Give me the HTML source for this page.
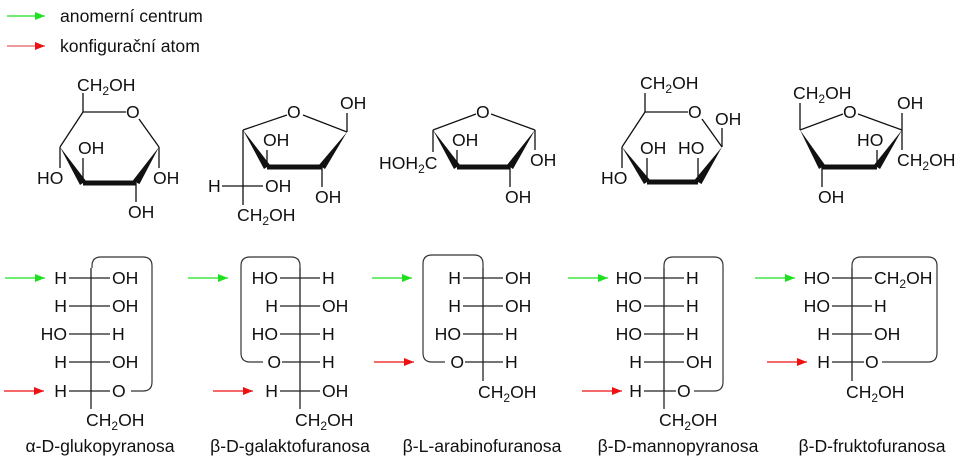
<!DOCTYPE html>
<html><head><meta charset="utf-8"><style>
html,body{margin:0;padding:0;background:#fff;}
svg{display:block;}
text{font-family:"Liberation Sans",Arial,sans-serif;font-size:17.6px;fill:#111;}
.s{font-size:12px;}
</style></head><body>
<svg width="960" height="462" viewBox="0 0 960 462" xmlns="http://www.w3.org/2000/svg">
<defs>
<marker id="g" markerWidth="10" markerHeight="8" refX="10" refY="4" orient="auto" markerUnits="userSpaceOnUse"><path d="M0,0 L10,4 L0,8 Z" fill="#1fe01f"/></marker>
<marker id="r" markerWidth="10" markerHeight="8" refX="10" refY="4" orient="auto" markerUnits="userSpaceOnUse"><path d="M0,0 L10,4 L0,8 Z" fill="#ee1111"/></marker>
</defs>
<g stroke-width="1.2">
<line x1="7" y1="16" x2="45" y2="16" stroke="#1fe01f" marker-end="url(#g)"/>
<line x1="7" y1="46" x2="45" y2="46" stroke="#e06060" marker-end="url(#r)"/>
</g>
<text x="60" y="22">anomerní centrum</text>
<text x="60" y="52">konfigurační atom</text>

<g stroke="#111" stroke-width="1.3" fill="none">
<line x1="83" y1="112" x2="126" y2="112"/>
<line x1="83" y1="93" x2="83" y2="112"/>
<line x1="139" y1="119" x2="159" y2="147"/>
<line x1="83" y1="112" x2="60" y2="147"/>
<line x1="60" y1="147" x2="60" y2="168"/>
<line x1="83" y1="183" x2="83" y2="158"/>
<line x1="159" y1="147" x2="159" y2="168"/>
<line x1="136" y1="183" x2="136" y2="202"/>
<line x1="83" y1="183" x2="136" y2="183" stroke-width="5"/>
<line x1="243" y1="130" x2="287" y2="115"/>
<line x1="303" y1="115" x2="347" y2="132"/>
<line x1="347" y1="132" x2="347" y2="113"/>
<line x1="322" y1="167" x2="322" y2="187"/>
<line x1="267" y1="167" x2="267" y2="150"/>
<line x1="243" y1="130" x2="243" y2="205"/>
<line x1="222" y1="186" x2="263" y2="186"/>
<line x1="267" y1="167" x2="322" y2="167" stroke-width="5"/>
<line x1="433" y1="130" x2="476" y2="114"/>
<line x1="491" y1="114" x2="535" y2="130"/>
<line x1="535" y1="130" x2="535" y2="150"/>
<line x1="510" y1="167" x2="510" y2="187"/>
<line x1="457" y1="167" x2="457" y2="150"/>
<line x1="433" y1="130" x2="433" y2="152"/>
<line x1="457" y1="167" x2="510" y2="167" stroke-width="5"/>
<line x1="645" y1="112" x2="688" y2="112"/>
<line x1="645" y1="93" x2="645" y2="112"/>
<line x1="702" y1="119" x2="722" y2="147"/>
<line x1="722" y1="147" x2="722" y2="128"/>
<line x1="645" y1="112" x2="622" y2="147"/>
<line x1="622" y1="147" x2="622" y2="168"/>
<line x1="698" y1="182" x2="698" y2="158"/>
<line x1="647" y1="182" x2="647" y2="158"/>
<line x1="647" y1="182" x2="698" y2="182" stroke-width="5"/>
<line x1="800" y1="130" x2="843" y2="114"/>
<line x1="858" y1="114" x2="902" y2="130"/>
<line x1="800" y1="130" x2="800" y2="103"/>
<line x1="902" y1="113" x2="902" y2="150"/>
<line x1="877" y1="167" x2="877" y2="150"/>
<line x1="822" y1="167" x2="822" y2="187"/>
<line x1="822" y1="167" x2="877" y2="167" stroke-width="5"/>
</g>
<g fill="#111">
<polygon points="159,147 139.5,184 132.5,181"/>
<polygon points="60,147 86,181 80,185"/>
<polygon points="347,132 325,169 319,165"/>
<polygon points="243,130 270,165 264,169"/>
<polygon points="535,130 513,169 507,165"/>
<polygon points="433,130 460,165 454,169"/>
<polygon points="722,147 701.5,184 694.5,180"/>
<polygon points="622,147 650,180 644,184"/>
<polygon points="902,130 880,169 874,165"/>
<polygon points="800,130 825,165 819,169"/>
</g>
<text x="77" y="91">CH<tspan class="s" dy="4">2</tspan><tspan dy="-4">OH</tspan></text>
<text x="126" y="118">O</text>
<text x="78" y="154">OH</text>
<text x="37" y="184">HO</text>
<text x="153" y="184">OH</text>
<text x="128" y="218">OH</text>

<text x="287" y="118">O</text>
<text x="340" y="109">OH</text>
<text x="263" y="146">OH</text>
<text x="315" y="203">OH</text>
<text x="208" y="192">H</text>
<text x="265" y="192">OH</text>
<text x="237" y="221">CH<tspan class="s" dy="4">2</tspan><tspan dy="-4">OH</tspan></text>

<text x="476" y="118">O</text>
<text x="452" y="146">OH</text>
<text x="530" y="166">OH</text>
<text x="505" y="203">OH</text>
<text x="379" y="169">HOH<tspan class="s" dy="4">2</tspan><tspan dy="-4">C</tspan></text>

<text x="640" y="89">CH<tspan class="s" dy="4">2</tspan><tspan dy="-4">OH</tspan></text>
<text x="688" y="118">O</text>
<text x="715" y="125">OH</text>
<text x="640" y="154">OH</text>
<text x="678" y="154">HO</text>
<text x="601" y="184">HO</text>

<text x="793" y="99">CH<tspan class="s" dy="4">2</tspan><tspan dy="-4">OH</tspan></text>
<text x="843" y="118">O</text>
<text x="897" y="109">OH</text>
<text x="857" y="146">HO</text>
<text x="897" y="166">CH<tspan class="s" dy="4">2</tspan><tspan dy="-4">OH</tspan></text>
<text x="818" y="203">OH</text>

<g stroke="#333" stroke-width="1.2" fill="none">
<path d="M92,268 V266 Q92,257 101,257 H143 Q152,257 152,266 V382 Q152,391 143,391 H131"/>
<path d="M300,268 V266 Q300,257 291,257 H250 Q241,257 241,266 V353 Q241,362 250,362 H263"/>
<path d="M483,268 V264 Q483,255 474,255 H432 Q423,255 423,264 V353 Q423,362 432,362 H445"/>
<path d="M664,268 V266 Q664,257 673,257 H714 Q723,257 723,266 V382 Q723,391 714,391 H694"/>
<path d="M852,268 V266 Q852,257 861,257 H928 Q937,257 937,266 V353 Q937,362 928,362 H882"/>
</g>
<g stroke="#222" stroke-width="1.3">
<line x1="91" y1="268" x2="91" y2="409"/>
<line x1="300" y1="268" x2="300" y2="409"/>
<line x1="483" y1="268" x2="483" y2="381"/>
<line x1="664" y1="268" x2="664" y2="409"/>
<line x1="852" y1="268" x2="852" y2="381"/>
<line x1="69" y1="278" x2="110" y2="278"/><line x1="69" y1="306" x2="110" y2="306"/><line x1="69" y1="334" x2="110" y2="334"/><line x1="69" y1="362" x2="110" y2="362"/><line x1="69" y1="391" x2="110" y2="391"/>
<line x1="280" y1="278" x2="320" y2="278"/><line x1="280" y1="306" x2="320" y2="306"/><line x1="280" y1="334" x2="320" y2="334"/><line x1="282" y1="362" x2="320" y2="362"/><line x1="280" y1="391" x2="320" y2="391"/>
<line x1="463" y1="278" x2="503" y2="278"/><line x1="463" y1="306" x2="503" y2="306"/><line x1="463" y1="334" x2="503" y2="334"/><line x1="465" y1="362" x2="503" y2="362"/>
<line x1="644" y1="278" x2="684" y2="278"/><line x1="644" y1="306" x2="684" y2="306"/><line x1="644" y1="334" x2="684" y2="334"/><line x1="644" y1="362" x2="684" y2="362"/><line x1="644" y1="391" x2="676" y2="391"/>
<line x1="832" y1="278" x2="872" y2="278"/><line x1="832" y1="306" x2="872" y2="306"/><line x1="832" y1="334" x2="872" y2="334"/><line x1="832" y1="362" x2="864" y2="362"/>
</g>
<g stroke-width="1.2">
<line x1="5" y1="278" x2="45" y2="278" stroke="#1fe01f" marker-end="url(#g)"/>
<line x1="4" y1="391" x2="44" y2="391" stroke="#ee1111" marker-end="url(#r)"/>
<line x1="188" y1="278" x2="228" y2="278" stroke="#1fe01f" marker-end="url(#g)"/>
<line x1="213" y1="391" x2="253" y2="391" stroke="#ee1111" marker-end="url(#r)"/>
<line x1="372" y1="278" x2="412" y2="278" stroke="#1fe01f" marker-end="url(#g)"/>
<line x1="374" y1="362" x2="414" y2="362" stroke="#ee1111" marker-end="url(#r)"/>
<line x1="568" y1="278" x2="608" y2="278" stroke="#1fe01f" marker-end="url(#g)"/>
<line x1="582" y1="391" x2="622" y2="391" stroke="#ee1111" marker-end="url(#r)"/>
<line x1="755" y1="278" x2="795" y2="278" stroke="#1fe01f" marker-end="url(#g)"/>
<line x1="767" y1="362" x2="807" y2="362" stroke="#ee1111" marker-end="url(#r)"/>
</g>
<g text-anchor="end">
<text x="67" y="284">H</text><text x="67" y="312">H</text><text x="67" y="340">HO</text><text x="67" y="368">H</text><text x="67" y="397">H</text>
<text x="278" y="284">HO</text><text x="278" y="312">H</text><text x="278" y="340">HO</text><text x="281" y="368">O</text><text x="278" y="397">H</text>
<text x="461" y="284">H</text><text x="461" y="312">H</text><text x="461" y="340">HO</text><text x="464" y="368">O</text>
<text x="642" y="284">HO</text><text x="642" y="312">HO</text><text x="642" y="340">HO</text><text x="642" y="368">H</text><text x="642" y="397">H</text>
<text x="830" y="284">HO</text><text x="830" y="312">HO</text><text x="830" y="340">H</text><text x="830" y="368">H</text>
</g>
<text x="112" y="284">OH</text><text x="112" y="312">OH</text><text x="112" y="340">H</text><text x="112" y="368">OH</text><text x="112" y="397">O</text>
<text x="322" y="284">H</text><text x="322" y="312">OH</text><text x="322" y="340">H</text><text x="322" y="368">H</text><text x="322" y="397">OH</text>
<text x="505" y="284">OH</text><text x="505" y="312">OH</text><text x="505" y="340">H</text><text x="505" y="368">H</text>
<text x="686" y="284">H</text><text x="686" y="312">H</text><text x="686" y="340">H</text><text x="686" y="368">OH</text><text x="677" y="397">O</text>
<text x="874" y="284">CH<tspan class="s" dy="4">2</tspan><tspan dy="-4">OH</tspan></text><text x="874" y="312">H</text><text x="874" y="340">OH</text><text x="865" y="368">O</text>
<text x="86" y="426">CH<tspan class="s" dy="4">2</tspan><tspan dy="-4">OH</tspan></text>
<text x="295" y="426">CH<tspan class="s" dy="4">2</tspan><tspan dy="-4">OH</tspan></text>
<text x="478" y="398">CH<tspan class="s" dy="4">2</tspan><tspan dy="-4">OH</tspan></text>
<text x="659" y="426">CH<tspan class="s" dy="4">2</tspan><tspan dy="-4">OH</tspan></text>
<text x="846" y="398">CH<tspan class="s" dy="4">2</tspan><tspan dy="-4">OH</tspan></text>
<g text-anchor="middle">
<text x="100" y="452">α-D-glukopyranosa</text>
<text x="290" y="452">β-D-galaktofuranosa</text>
<text x="482" y="452">β-L-arabinofuranosa</text>
<text x="678" y="452">β-D-mannopyranosa</text>
<text x="872" y="452">β-D-fruktofuranosa</text>
</g>
</svg>
</body></html>
